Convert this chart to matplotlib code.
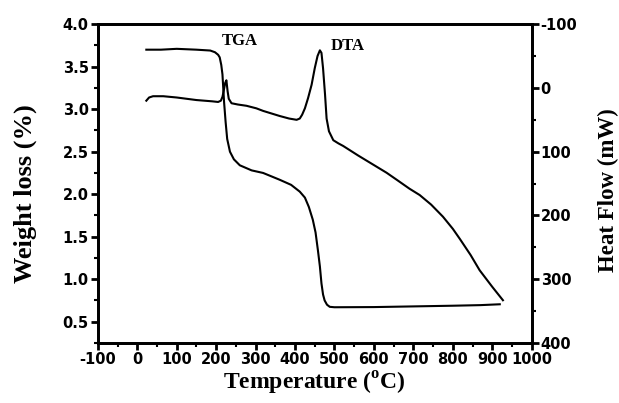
import matplotlib
matplotlib.use('Agg')
from matplotlib import pyplot as plt
from matplotlib.ticker import MultipleLocator

plt.rcParams['mathtext.fontset'] = 'custom'
plt.rcParams['mathtext.rm'] = 'Liberation Serif:bold'

# TGA curve: temperature (oC) vs weight (left axis)
tga_temp = [23, 60, 100, 150, 185, 197, 205, 209, 213, 216, 220, 224, 228, 235, 245,
            260, 290, 319, 361, 390, 412, 425, 435, 445, 452, 458, 463, 467, 471, 475,
            481, 488, 500, 600, 700, 800, 870, 919]
tga_weight = [3.70, 3.70, 3.71, 3.70, 3.69, 3.67, 3.64, 3.61, 3.52, 3.41, 3.09, 2.85, 2.65,
              2.50, 2.41, 2.34, 2.28, 2.25, 2.17, 2.11, 2.03, 1.96, 1.85, 1.70, 1.55, 1.34,
              1.15, 0.95, 0.82, 0.75, 0.70, 0.675, 0.67, 0.672, 0.68, 0.688, 0.695, 0.705]

# DTA curve: temperature (oC) vs heat flow (right axis, inverted)
dta_temp = [23, 30, 40, 66, 100, 150, 190, 205, 212, 216, 220, 223, 226, 229, 232, 239,
            255, 277, 302, 319, 340, 361, 385, 404, 412, 418, 425, 433, 442, 450, 457,
            463, 467, 471, 476, 480, 486, 497, 510, 522, 560, 600, 632, 660, 690, 716,
            745, 775, 800, 818, 845, 868, 900, 927]
dta_flow = [20, 15, 13, 13, 15, 19, 21, 22, 20, 14, 2, -8, -12, 5, 17, 24, 26, 28, 32, 36,
            40, 44, 48, 50, 48, 42, 32, 16, -5, -31, -50, -59, -55, -31, 10, 48, 68, 82,
            87, 91, 106, 121, 133, 145, 158, 168, 183, 202, 221, 237, 262, 286, 312, 333]

fig = plt.figure(figsize=(6.19, 4.03), dpi=100)
ax = fig.add_axes([0.158, 0.149, 0.701, 0.791])
ax2 = ax.twinx()

ax.plot(tga_temp, tga_weight, color='black', lw=1.5)
ax2.plot(dta_temp, dta_flow, color='black', lw=1.5)

tick_font = {'family': 'DejaVu Sans', 'weight': 'bold', 'size': 10.5}
label_font = {'family': 'Liberation Serif', 'weight': 'bold'}

# x axis
ax.set_xlim(-100, 1000)
ax.xaxis.set_minor_locator(MultipleLocator(50))
ax.set_xticks(range(-100, 1001, 100))
ax.set_xticklabels([str(v) for v in range(-100, 1001, 100)], fontdict=tick_font)

# left axis
ax.set_ylim(0.25, 4.0)
ax.yaxis.set_minor_locator(MultipleLocator(0.25))
ax.set_yticks([0.5, 1.0, 1.5, 2.0, 2.5, 3.0, 3.5, 4.0])
ax.set_yticklabels(['0.5', '1.0', '1.5', '2.0', '2.5', '3.0', '3.5', '4.0'], fontdict=tick_font)

# right axis
ax2.set_ylim(400, -100)
ax2.yaxis.set_minor_locator(MultipleLocator(50))
ax2.set_yticks([-100, 0, 100, 200, 300, 400])
ax2.set_yticklabels(['-100', '0', '100', '200', '300', '400'], fontdict=tick_font)

for a in (ax, ax2):
    for s in a.spines.values():
        s.set_linewidth(2)
    a.tick_params(which='major', length=5, width=2, direction='out', pad=1.5)
    a.tick_params(which='minor', length=3, width=1.5, direction='out')
ax.tick_params(top=False, which='both')

ax.set_xlabel('Temperature ($^{\\rm o}$C)', fontdict=label_font, fontsize=17, labelpad=2)
ax.set_ylabel('Weight loss (%)', fontdict=label_font, fontsize=19)
ax2.set_ylabel('Heat Flow (mW)', fontdict=label_font, fontsize=16.5)
ax.yaxis.set_label_coords(-0.14, 0.47)
ax2.yaxis.set_label_coords(1.152, 0.48)

ax.text(260, 3.80, 'TGA', ha='center', va='center',
        family='Liberation Serif', weight='bold', fontsize=12)
ax.text(534, 3.74, 'DTA', ha='center', va='center',
        family='Liberation Serif', weight='bold', fontsize=12)

fig.savefig('out.png', dpi=100)
